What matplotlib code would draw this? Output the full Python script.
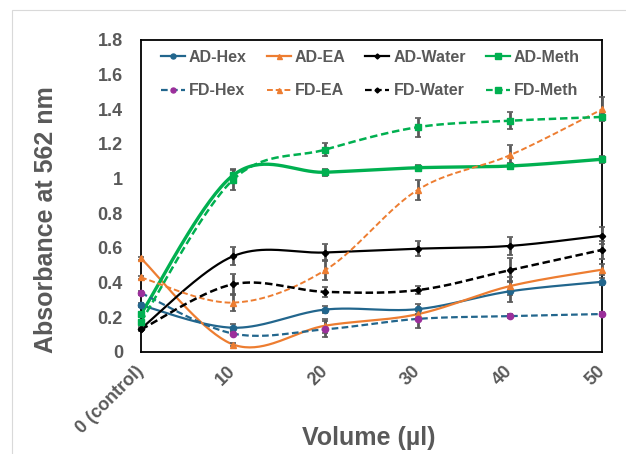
import numpy as np
import matplotlib.pyplot as plt
from matplotlib.lines import Line2D
from matplotlib.patches import Rectangle

# Dane
volumes = ["0 (control)", "10", "20", "30", "40", "50"]

ad_hex = [0.27, 0.14, 0.245, 0.247, 0.35, 0.405]
ad_ea = [0.54, 0.043, 0.152, 0.218, 0.38, 0.475]
ad_water = [0.135, 0.553, 0.574, 0.596, 0.612, 0.671]
ad_meth = [0.22, 1.02, 1.037, 1.063, 1.073, 1.112]
fd_hex = [0.34, 0.106, 0.131, 0.191, 0.207, 0.219]
fd_ea = [0.43, 0.285, 0.473, 0.935, 1.135, 1.40]
fd_water = [0.13, 0.391, 0.347, 0.357, 0.472, 0.589]
fd_meth = [0.175, 0.995, 1.168, 1.297, 1.334, 1.356]

# odchylenia (słupki błędów)
ad_hex_err = [0.01, 0.02, 0.02, 0.03, 0.06, 0.02]
ad_ea_err = [0.01, 0.01, 0.04, 0.03, 0.05, 0.03]
ad_water_err = [0.01, 0.05, 0.05, 0.045, 0.05, 0.05]
ad_meth_err = [0.01, 0.03, 0.02, 0.015, 0.015, 0.02]
fd_hex_err = [0.01, 0.01, 0.045, 0.05, 0.01, 0.01]
fd_ea_err = [0.01, 0.05, 0.06, 0.06, 0.06, 0.07]
fd_water_err = [0.01, 0.06, 0.03, 0.025, 0.07, 0.05]
fd_meth_err = [0.01, 0.06, 0.04, 0.055, 0.05, 0.02]

names = ["AD-Hex", "AD-EA", "AD-Water", "AD-Meth", "FD-Hex", "FD-EA", "FD-Water", "FD-Meth"]
values = [ad_hex, ad_ea, ad_water, ad_meth, fd_hex, fd_ea, fd_water, fd_meth]
errors = [ad_hex_err, ad_ea_err, ad_water_err, ad_meth_err,
          fd_hex_err, fd_ea_err, fd_water_err, fd_meth_err]

blue = "#22668D"
orange = "#ED7D31"
green = "#00B050"
gray = "#595959"
styles = [
    dict(color=blue, mfc=blue, marker="o", ls="-", lw=1.6, ms=4.5),
    dict(color=orange, mfc=orange, marker="^", ls="-", lw=1.6, ms=4.5),
    dict(color="black", mfc="black", marker="D", ls="-", lw=1.6, ms=3.2),
    dict(color=green, mfc=green, marker="s", ls="-", lw=2.4, ms=5),
    dict(color=blue, mfc="#9B2F9B", marker="o", ls=(0, (3, 1.5)), lw=1.6, ms=4.5),
    dict(color=orange, mfc=orange, marker="^", ls=(0, (3, 1.5)), lw=1.4, ms=4.5),
    dict(color="black", mfc="black", marker="D", ls=(0, (3, 1.5)), lw=1.8, ms=3.2),
    dict(color=green, mfc=green, marker="s", ls=(0, (3, 1.5)), lw=1.8, ms=5),
]


def smooth_line(xs, ys, sx, sy, n=40):
    # wygładzanie w stylu Excela (krzywe Beziera, Catmull-Rom)
    pts = np.column_stack([np.asarray(xs, float) * sx, np.asarray(ys, float) * sy])
    k = len(pts)
    out = []
    for i in range(k - 1):
        p0 = pts[max(i - 1, 0)]
        p1 = pts[i]
        p2 = pts[i + 1]
        p3 = pts[min(i + 2, k - 1)]
        c1 = p1 + (p2 - p0) / 6
        c2 = p2 - (p3 - p1) / 6
        t = np.linspace(0, 1, n)[:, None]
        seg = ((1 - t) ** 3) * p1 + 3 * ((1 - t) ** 2) * t * c1 + 3 * (1 - t) * t ** 2 * c2 + t ** 3 * p2
        out.append(seg if i == 0 else seg[1:])
    out = np.vstack(out)
    return out[:, 0] / sx, out[:, 1] / sy


fig = plt.figure(figsize=(6.26, 4.54), dpi=100)
ax = fig.add_axes([141 / 626, 102 / 454, 461 / 626, 312 / 454])

fig.patches.append(Rectangle((12 / 626, -0.1), 1.2, (444 / 454) + 0.1, transform=fig.transFigure,
                             fill=False, edgecolor="#d9d9d9", lw=0.8))

x = np.arange(len(volumes))
px_x = 461 / 5
px_y = 312 / 1.8

handles = {}
for name, y, err, st in zip(names, values, errors, styles):
    xs, ys = smooth_line(x, y, px_x, px_y)
    ax.plot(xs, ys, color=st["color"], ls=st["ls"], lw=st["lw"], zorder=2, clip_on=False)
    ax.errorbar(x, y, yerr=err, fmt="none", ecolor=gray, elinewidth=2, capsize=2.5,
                capthick=1.2, zorder=3, clip_on=False)
    ax.plot(x, y, ls="none", marker=st["marker"], ms=st["ms"], mfc=st["mfc"],
            mec=st["mfc"], zorder=4, clip_on=False)
    handles[name] = Line2D([], [], color=st["color"], ls=st["ls"], lw=min(st["lw"], 1.6),
                           marker=st["marker"], ms=st["ms"] * 0.8, mfc=st["mfc"], mec=st["mfc"])

ax.set_xlim(0, 5)
ax.set_ylim(0, 1.8)
ax.set_yticks(np.arange(0, 1.81, 0.2))
ax.set_yticklabels(["0", "0.2", "0.4", "0.6", "0.8", "1", "1.2", "1.4", "1.6", "1.8"])
ax.set_xticks(x)
ax.set_xticklabels(volumes, rotation=45, ha="right", va="center", rotation_mode="anchor")

for s in ax.spines.values():
    s.set_linewidth(1.3)
    s.set_color("black")

ax.tick_params(axis="y", length=0, pad=13, labelsize=13, labelcolor=gray)
ax.tick_params(axis="x", length=0, pad=12, labelsize=13, labelcolor=gray)
for lab in ax.get_xticklabels() + ax.get_yticklabels():
    lab.set_fontweight("bold")
    lab.set_fontfamily("Liberation Sans")

ax.set_ylabel("Absorbance at 562 nm", fontsize=18, fontweight="bold", color=gray,
              family="Liberation Sans")
ax.yaxis.label.set_va("center")
ax.yaxis.set_label_coords(-0.206, 0.423)
ax.set_xlabel("Volume (µl)", fontsize=18, fontweight="bold", color=gray,
              family="Liberation Sans")
ax.xaxis.label.set_va("center")
ax.xaxis.set_label_coords(0.493, -0.275)

# kolejność wierszami jak w Excelu
order = ["AD-Hex", "FD-Hex", "AD-EA", "FD-EA", "AD-Water", "FD-Water", "AD-Meth", "FD-Meth"]
leg = ax.legend([handles[n] for n in order], order, ncol=4, loc="upper left", mode="expand",
                bbox_to_anchor=(0.043, 0.6, 0.909, 0.368), frameon=False,
                prop={"family": "Liberation Sans", "weight": "bold", "size": 11.5},
                handlelength=1.5, handletextpad=0.25, labelspacing=1.15,
                borderpad=0, borderaxespad=0)
for t in leg.get_texts():
    t.set_color(gray)

fig.savefig("out.png", dpi=100)
